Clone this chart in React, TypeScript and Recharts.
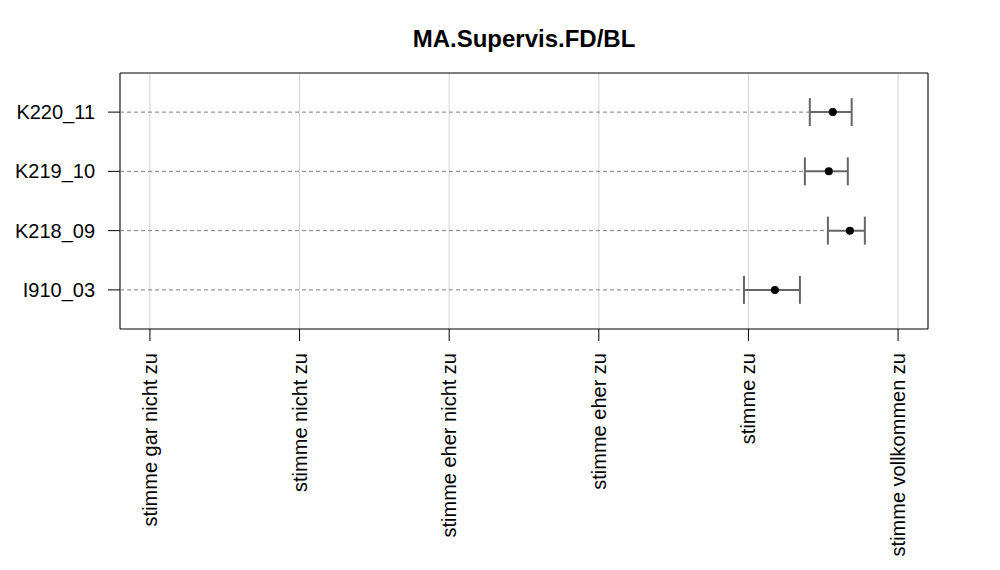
import React from 'react';
import {
  ScatterChart,
  Scatter,
  XAxis,
  YAxis,
  CartesianGrid,
  ReferenceLine,
  ReferenceArea,
  ErrorBar,
} from 'recharts';

// rows from bottom (y = 1) to top (y = 4)
const items = ['I910_03', 'K218_09', 'K219_10', 'K220_11'];
const means = [5.177, 5.678, 5.537, 5.564];
const lower = [4.97, 5.531, 5.377, 5.41];
const upper = [5.344, 5.778, 5.664, 5.69];

const scaleLabels = [
  'stimme gar nicht zu',
  'stimme nicht zu',
  'stimme eher nicht zu',
  'stimme eher zu',
  'stimme zu',
  'stimme vollkommen zu',
];
const xTicks = [1, 2, 3, 4, 5, 6];
const yTicks = [1, 2, 3, 4];
const xDomain = [0.8, 6.2];
const yDomain = [0.34, 4.66];

const title = 'MA.Supervis.FD/BL';

const data = items.map((name, i) => ({
  name,
  x: means[i],
  y: i + 1,
  err: [means[i] - lower[i], upper[i] - means[i]],
}));

const FONT = '"Liberation Sans", Arial, Helvetica, sans-serif';

const XTick = (props: any) => {
  const { x, y, payload } = props;
  const label = scaleLabels[Math.round(payload.value) - 1];
  return (
    <text
      transform={`translate(${x},${y}) rotate(-90)`}
      textAnchor="end"
      dy="0.35em"
      fontSize={20}
      fill="#000"
      fontFamily={FONT}
    >
      {label}
    </text>
  );
};

const YTick = (props: any) => {
  const { x, y, payload } = props;
  const label = items[Math.round(payload.value) - 1];
  return (
    <text
      x={x}
      y={y}
      dy="0.35em"
      textAnchor="end"
      fontSize={20}
      fill="#000"
      fontFamily={FONT}
    >
      {label}
    </text>
  );
};

const Dot = (props: any) => {
  const { cx, cy } = props;
  return <circle cx={cx} cy={cy} r={4} fill="#000" />;
};

export default function App() {
  return (
    <div
      style={{
        position: 'absolute',
        left: 0,
        top: 0,
        width: 1000,
        height: 570,
        background: '#fff',
        fontFamily: FONT,
      }}
    >
      <div
        style={{
          position: 'absolute',
          left: 120,
          width: 808,
          top: 27,
          textAlign: 'center',
          fontSize: 24,
          lineHeight: '24px',
          fontWeight: 'bold',
          color: '#000',
          fontFamily: FONT,
        }}
      >
        {title}
      </div>
      <ScatterChart
        width={1000}
        height={570}
        margin={{ top: 73, right: 72, bottom: 0, left: 0 }}
      >
        <CartesianGrid
          horizontal={false}
          vertical={true}
          stroke="#d3d3d3"
          strokeWidth={1}
        />
        <XAxis
          type="number"
          dataKey="x"
          domain={xDomain}
          ticks={xTicks}
          interval={0}
          allowDataOverflow
          height={241}
          tickSize={12}
          tickMargin={12}
          axisLine={false}
          tickLine={{ stroke: '#000', strokeWidth: 1 }}
          tick={<XTick />}
        />
        <YAxis
          type="number"
          dataKey="y"
          domain={yDomain}
          ticks={yTicks}
          interval={0}
          allowDataOverflow
          width={120}
          tickSize={12}
          tickMargin={13}
          axisLine={false}
          tickLine={{ stroke: '#000', strokeWidth: 1 }}
          tick={<YTick />}
        />
        {items.map((name, i) => (
          <ReferenceLine
            key={name}
            segment={[
              { x: xDomain[0], y: i + 1 },
              { x: lower[i], y: i + 1 },
            ]}
            stroke="#808080"
            strokeWidth={1}
            strokeDasharray="4 3"
            ifOverflow="visible"
          />
        ))}
        <ReferenceArea
          x1={xDomain[0]}
          x2={xDomain[1]}
          y1={yDomain[0]}
          y2={yDomain[1]}
          fill="none"
          fillOpacity={0}
          stroke="#000"
          strokeWidth={1}
          ifOverflow="visible"
        />
        <Scatter
          data={data}
          dataKey="x"
          shape={<Dot />}
          isAnimationActive={false}
        >
          <ErrorBar
            dataKey="err"
            direction="x"
            width={14}
            stroke="#666666"
            strokeWidth={2}
          />
        </Scatter>
      </ScatterChart>
    </div>
  );
}
